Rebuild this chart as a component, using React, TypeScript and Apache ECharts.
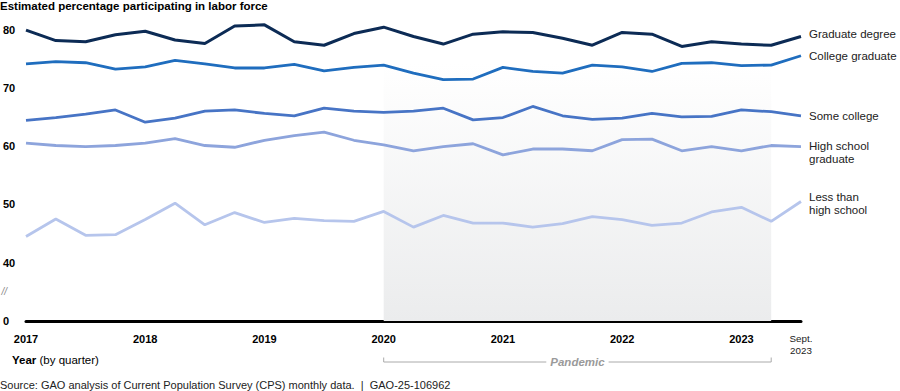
import React, { useEffect, useRef } from "react";
import * as echarts from "echarts";

const FONT = '"Liberation Sans", Arial, Helvetica, sans-serif';

const categories = [
  "2017 Q1", "2017 Q2", "2017 Q3", "2017 Q4",
  "2018 Q1", "2018 Q2", "2018 Q3", "2018 Q4",
  "2019 Q1", "2019 Q2", "2019 Q3", "2019 Q4",
  "2020 Q1", "2020 Q2", "2020 Q3", "2020 Q4",
  "2021 Q1", "2021 Q2", "2021 Q3", "2021 Q4",
  "2022 Q1", "2022 Q2", "2022 Q3", "2022 Q4",
  "2023 Q1", "2023 Q2", "2023 Q3",
];

const graduateDegree = [
  79.9, 78.1, 77.9, 79.1, 79.7, 78.2, 77.6, 80.6, 80.8, 77.9,
  77.3, 79.3, 80.4, 78.8, 77.5, 79.2, 79.6, 79.5, 78.5, 77.3,
  79.5, 79.2, 77.1, 77.9, 77.5, 77.3, 78.8,
];
const collegeGraduate = [
  74.1, 74.5, 74.3, 73.2, 73.6, 74.7, 74.1, 73.4, 73.4, 74.0,
  72.9, 73.5, 73.9, 72.5, 71.4, 71.5, 73.5, 72.8, 72.5, 73.9,
  73.6, 72.8, 74.2, 74.3, 73.8, 73.9, 75.5,
];
const someCollege = [
  64.4, 64.9, 65.5, 66.2, 64.1, 64.8, 66.0, 66.2, 65.6, 65.2,
  66.5, 66.0, 65.8, 66.0, 66.5, 64.5, 64.9, 66.8, 65.2, 64.6,
  64.8, 65.6, 65.0, 65.1, 66.2, 65.9, 65.2,
];
const highSchoolGraduate = [
  60.5, 60.1, 59.9, 60.1, 60.5, 61.3, 60.1, 59.8, 61.0, 61.8,
  62.4, 61.0, 60.2, 59.2, 59.9, 60.4, 58.5, 59.5, 59.5, 59.2,
  61.1, 61.2, 59.2, 59.9, 59.2, 60.1, 59.9,
];
const lessThanHighSchool = [
  44.5, 47.5, 44.7, 44.8, 47.4, 50.2, 46.5, 48.6, 46.9, 47.6,
  47.2, 47.1, 48.8, 46.1, 48.1, 46.8, 46.8, 46.1, 46.7, 47.9,
  47.4, 46.4, 46.8, 48.7, 49.5, 47.1, 50.5,
];

const seriesLabels = [
  "Graduate degree",
  "College graduate",
  "Some college",
  "High school\ngraduate",
  "Less than\nhigh school",
];
const seriesColors = ["#0c2b55", "#1f6dbe", "#4774c5", "#8da4dc", "#b6c5ec"];

const yearTickLabels = ["2017", "2018", "2019", "2020", "2021", "2022", "2023"];
const lastTickLabel = ["Sept.", "2023"];
const pandemicStart = "2020 Q1";
const pandemicEnd = "2023 Q2";

const titleText = "Estimated percentage participating in labor force";
const sourceText =
  "Source: GAO analysis of Current Population Survey (CPS) monthly data.  |  GAO-25-106962";

export default function App() {
  const ref = useRef<HTMLDivElement>(null);

  useEffect(() => {
    const chart = echarts.init(ref.current!, null, { renderer: "svg" });
    const allData = [
      graduateDegree,
      collegeGraduate,
      someCollege,
      highSchoolGraduate,
      lessThanHighSchool,
    ];
    const labelOffsets = [
      [0, -2],
      [0, 0],
      [0, 0],
      [0, 6],
      [0, 2],
    ];

    const series = allData.map((d, i) => {
      const s: any = {
        type: "line",
        name: seriesLabels[i],
        data: d,
        symbol: "none",
        z: 3,
        lineStyle: { color: seriesColors[i], width: i === 0 ? 3 : 2.8 },
        itemStyle: { color: seriesColors[i] },
        endLabel: {
          show: true,
          formatter: () => seriesLabels[i],
          distance: 8,
          offset: labelOffsets[i],
          fontSize: 11.5,
          lineHeight: 12.5,
          color: "#222",
          fontFamily: FONT,
          align: "left",
        },
      };
      if (i === 0) {
        s.markArea = {
          silent: true,
          z: 1,
          itemStyle: {
            color: new echarts.graphic.LinearGradient(0, 0, 0, 1, [
              { offset: 0, color: "rgba(235,236,237,0)" },
              { offset: 0.15, color: "rgba(235,236,237,0)" },
              { offset: 1, color: "rgba(235,236,237,1)" },
            ]),
          },
          data: [[{ xAxis: pandemicStart }, { xAxis: pandemicEnd }]],
        };
      }
      return s;
    });

    chart.setOption({
      animation: false,
      textStyle: { fontFamily: FONT },
      grid: { left: 23, right: 99, top: 17.84, bottom: 70, containLabel: false },
      xAxis: {
        type: "category",
        data: categories,
        boundaryGap: false,
        axisLine: { lineStyle: { color: "#000", width: 3 } },
        axisTick: { show: false },
        splitLine: { show: false },
        axisLabel: {
          interval: 0,
          margin: 11,
          formatter: (v: string, idx: number) => {
            if (idx === categories.length - 1) {
              return `{s|${lastTickLabel[0]}}\n{s|${lastTickLabel[1]}}`;
            }
            const [yr, q] = v.split(" ");
            if (q === "Q1" && yearTickLabels.includes(yr)) return `{y|${yr}}`;
            return "";
          },
          rich: {
            y: { fontSize: 11, fontWeight: "bold", color: "#000", lineHeight: 13, fontFamily: FONT },
            s: { fontSize: 9.8, color: "#222", lineHeight: 12.3, fontFamily: FONT },
          },
        },
      },
      yAxis: {
        type: "value",
        min: 30,
        max: 82,
        interval: 10,
        axisLine: { show: false },
        axisTick: { show: false },
        splitLine: { show: false },
        axisLabel: {
          align: "left",
          margin: 23,
          fontSize: 11,
          fontWeight: "bold",
          color: "#000",
          fontFamily: FONT,
          formatter: (v: number) => (v === 30 ? "0" : v % 10 === 0 ? String(v) : ""),
        },
      },
      series,
    });

    const x0 = chart.convertToPixel({ xAxisIndex: 0 }, pandemicStart) as number;
    const x1 = chart.convertToPixel({ xAxisIndex: 0 }, pandemicEnd) as number;
    const brY = 362;

    chart.setOption({
      graphic: [
        {
          type: "text",
          x: 0,
          y: 6,
          style: {
            text: titleText,
            fontSize: 11.5,
            fontWeight: "bold",
            fontFamily: FONT,
            fill: "#000",
            verticalAlign: "middle",
          },
        },
        {
          type: "text",
          x: 1.5,
          y: 291.5,
          style: {
            text: "//",
            fontSize: 10,
            fontStyle: "italic",
            fontFamily: FONT,
            fill: "#888",
            verticalAlign: "middle",
          },
        },
        {
          type: "text",
          x: 12,
          y: 360,
          style: {
            text: "{b|Year} (by quarter)",
            fontSize: 11.5,
            fontFamily: FONT,
            fill: "#000",
            verticalAlign: "middle",
            rich: { b: { fontWeight: "bold", fontSize: 11.5, fontFamily: FONT, fill: "#000" } },
          },
        },
        {
          type: "polyline",
          shape: {
            points: [
              [x0, brY - 4.5],
              [x0, brY],
              [x1, brY],
              [x1, brY - 4.5],
            ],
          },
          style: { stroke: "#aaaaaa", lineWidth: 1, fill: null },
        },
        {
          type: "text",
          x: (x0 + x1) / 2,
          y: brY,
          style: {
            text: "Pandemic",
            fontSize: 11.5,
            fontWeight: "bold",
            fontStyle: "italic",
            fontFamily: FONT,
            fill: "#9a9a9a",
            align: "center",
            verticalAlign: "middle",
            backgroundColor: "#fff",
            padding: [0, 4],
          },
        },
        {
          type: "text",
          x: 0,
          y: 384.5,
          style: {
            text: sourceText,
            fontSize: 11,
            fontFamily: FONT,
            fill: "#222",
            verticalAlign: "middle",
          },
        },
      ],
    });

    return () => chart.dispose();
  }, []);

  return (
    <div
      ref={ref}
      style={{ position: "absolute", left: 0, top: 0, width: 900, height: 391, background: "#fff" }}
    />
  );
}
